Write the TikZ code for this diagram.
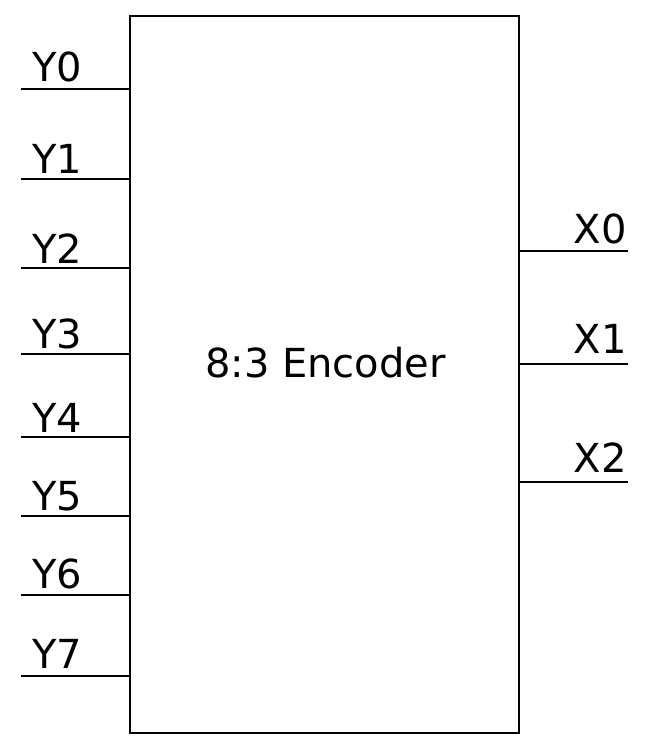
\documentclass[tikz,border=0pt]{standalone}
\usepackage{fontspec}
\setmainfont{DejaVu Sans}
\begin{document}
\begin{tikzpicture}[x=1pt,y=-1pt,
  blockbox/.style={draw=black,line width=2pt,rectangle,inner sep=0pt,minimum width=389pt,minimum height=717pt},
  wire/.style={draw=black,line width=1.4pt},
  lbl/.style={inner sep=0pt,font=\fontsize{40}{48}\selectfont}]
\useasboundingbox (0,0) rectangle (650,750);
\node[blockbox] (enc) at (324.5,374.5) {};
\node[lbl,anchor=base] (title) at (325.5,377) {8:3 Encoder};
% inputs
\foreach \i/\ly/\by in {0/89/81,1/179/173,2/268/263,3/354/348,4/437/432,5/516/510,6/595/588,7/676/668}{
  \coordinate (y\i) at (21,\ly);
  \draw[wire] (y\i) -- (y\i -| enc.west);
  \node[lbl,anchor=base west] (ly\i) at (32,\by) {Y\i};
}
% outputs
\foreach \i/\ly/\by in {0/251/243,1/364/353,2/482/472}{
  \coordinate (x\i) at (628,\ly);
  \draw[wire] (x\i -| enc.east) -- (x\i);
  \node[lbl,anchor=base east] (lx\i) at (627,\by) {X\i};
}
\end{tikzpicture}
\end{document}
